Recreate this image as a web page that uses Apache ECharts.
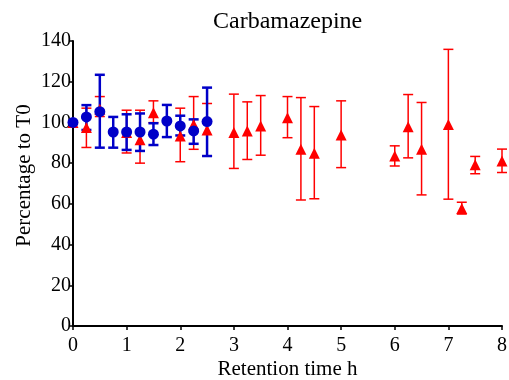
<!DOCTYPE html>
<html><head><meta charset="utf-8">
<script src="https://cdn.jsdelivr.net/npm/echarts@6/dist/echarts.min.js"></script>
<style>html,body{margin:0;padding:0;background:#fff}#c{width:509px;height:380px}</style>
</head><body><div id="c"></div>
<script>
var xTicks = [0,1,2,3,4,5,6,7,8];
var yTicks = [0,20,40,60,80,100,120,140];

var redX  = [0,0.25,0.5,1,1.25,1.5,2,2.25,2.5,3,3.25,3.5,4,4.25,4.5,5,6,6.25,6.5,7,7.25,7.5,8];
var redY  = [100,97.5,106.5,95,91.5,104.8,93.3,99,96.3,95,95.8,98.3,102.3,86.8,84.8,93.8,83.5,97.9,86.8,99,57.7,79.2,81];
var redHi = [100,107,112.7,106,106,110.6,107,112.7,109.3,113.9,110.1,113.2,112.7,112.2,107.8,110.6,88.5,113.7,109.8,135.9,60.8,83.3,86.9];
var redLo = [100,87.7,102.9,85,80,99.9,80.7,86.8,83.5,77.4,81.8,83.9,92.5,61.9,62.5,77.8,78.6,82.6,64.4,62.3,55,74.8,75.4];

var blueX  = [0,0.25,0.5,0.75,1,1.25,1.5,1.75,2,2.25,2.5];
var blueY  = [100,102.7,105.3,95.3,95.3,95.3,94.2,100.7,98.3,95.8,100.4];
var blueHi = [100,108.5,123.4,102.7,104,104.4,99.6,108.6,103.3,101.5,117.1];
var blueLo = [100,96.3,87.6,87.6,86.5,86,88.9,92.8,93.6,89.5,83.5];

var RED = '#ff0000', BLUE = '#0000c8';
var FONT = 'Liberation Serif';

function pts(xs, ys){ return xs.map(function(x,i){return [x, ys[i]];}); }
function errs(xs, lo, hi){ return xs.map(function(x,i){return [x, lo[i], hi[i]];}); }

function errRender(color, lw, cap){
  return function(params, api){
    var x = api.value(0), lo = api.value(1), hi = api.value(2);
    if (lo === hi) return null;
    var pLo = api.coord([x, lo]), pHi = api.coord([x, hi]);
    var st = {stroke: color, lineWidth: lw, fill: null};
    return {type:'group', children:[
      {type:'line', shape:{x1:pLo[0], y1:pLo[1], x2:pHi[0], y2:pHi[1]}, style:st},
      {type:'line', shape:{x1:pHi[0]-cap, y1:pHi[1], x2:pHi[0]+cap, y2:pHi[1]}, style:st},
      {type:'line', shape:{x1:pLo[0]-cap, y1:pLo[1], x2:pLo[0]+cap, y2:pLo[1]}, style:st}
    ]};
  };
}

var chart = echarts.init(document.getElementById('c'), null, {renderer:'canvas'});
chart.setOption({
  animation:false,
  backgroundColor:'#fff',
  title:{text:'Carbamazepine', left:208, top:5,
    textStyle:{fontFamily:FONT, fontSize:24, fontWeight:'normal', color:'#000'}},
  grid:{left:73, right:7, top:41, bottom:54, containLabel:false, outerBoundsMode:'none'},
  xAxis:{type:'value', min:0, max:8, interval:1,
    name:'Retention time h', nameLocation:'middle', nameGap:33, nameMoveOverlap:false,
    nameTextStyle:{fontFamily:FONT, fontSize:21, color:'#000'},
    axisLine:{show:true, onZero:false, lineStyle:{color:'#000', width:2}},
    axisTick:{show:true, length:4, lineStyle:{color:'#000', width:1.5}},
    axisLabel:{fontFamily:FONT, fontSize:20, color:'#000', margin:10},
    splitLine:{show:false}},
  yAxis:{type:'value', min:0, max:140, interval:20,
    name:'Percentage to T0', nameLocation:'middle', nameGap:38, nameMoveOverlap:false,
    nameTextStyle:{fontFamily:FONT, fontSize:21, color:'#000', padding:[0,0,0,16]},
    axisLine:{show:true, onZero:false, lineStyle:{color:'#000', width:2}},
    axisTick:{show:true, length:4, lineStyle:{color:'#000', width:1.5}},
    axisLabel:{fontFamily:FONT, fontSize:20, color:'#000', margin:2},
    splitLine:{show:false}},
  series:[
    {type:'custom', name:'redErr', renderItem:errRender(RED, 1.5, 5), data:errs(redX, redLo, redHi), clip:false, z:2},
    {type:'custom', name:'blueErr', renderItem:errRender(BLUE, 2.5, 5), data:errs(blueX, blueLo, blueHi), clip:false, z:3},
    {type:'scatter', name:'red', symbol:'triangle', symbolSize:11, data:pts(redX, redY),
      itemStyle:{color:RED, opacity:1}, clip:false, z:4},
    {type:'scatter', name:'blue', symbol:'circle', symbolSize:11, data:pts(blueX, blueY),
      itemStyle:{color:BLUE, opacity:1}, clip:false, z:5}
  ]
});
</script></body></html>
